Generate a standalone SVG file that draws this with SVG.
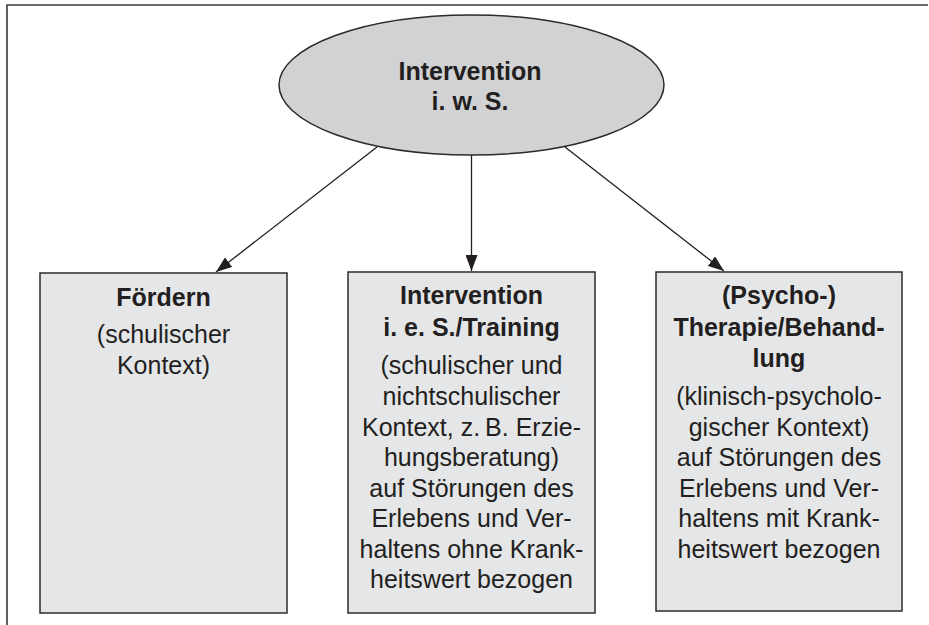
<svg xmlns="http://www.w3.org/2000/svg" width="929" height="625" viewBox="0 0 929 625">
<defs>
<style>
.frame{fill:none;stroke:#3a3a3a;stroke-width:1.6}
.box{fill:#e5e6e8;stroke:#2b2b2b;stroke-width:1.5}
.ell{fill:#d1d2d4;stroke:#2b2b2b;stroke-width:1.5}
.conn{fill:none;stroke:#231f20;stroke-width:1.3;marker-end:url(#arr)}
text{font-family:"Liberation Sans",Arial,sans-serif;font-size:25px;fill:#231f20;text-anchor:middle}
.b{font-weight:bold}
</style>
<marker id="arr" viewBox="0 0 16 12" refX="16" refY="6" markerWidth="16" markerHeight="12" markerUnits="userSpaceOnUse" orient="auto">
<path d="M0,0 L16,6 L0,12 Z" fill="#231f20"/>
</marker>
</defs>
<path class="frame" d="M7,625 L7,5 L928,5"/>
<g id="connectors">
<line class="conn" x1="377" y1="147" x2="216" y2="272"/>
<line class="conn" x1="471.5" y1="155" x2="471.5" y2="271"/>
<line class="conn" x1="565" y1="147" x2="724" y2="271"/>
</g>
<g id="root">
<ellipse class="ell" cx="471.5" cy="85" rx="192.5" ry="70"/>
<text class="b" x="470" y="80">Intervention</text>
<text class="b" x="470" y="110">i. w. S.</text>
</g>
<g id="foerdern">
<rect class="box" x="40" y="273" width="247" height="340"/>
<text class="b" x="163.5" y="306">Fördern</text>
<text x="163.5" y="343">(schulischer</text>
<text x="163.5" y="374">Kontext)</text>
</g>
<g id="intervention-training">
<rect class="box" x="348" y="272" width="247" height="341"/>
<text class="b" x="471.5" y="304">Intervention</text>
<text class="b" x="471.5" y="336">i. e. S./Training</text>
<text x="471.5" y="374">(schulischer und</text>
<text x="471.5" y="405">nichtschulischer</text>
<text x="471.5" y="436">Kontext, z.&#8201;B. Erzie-</text>
<text x="471.5" y="466">hungsberatung)</text>
<text x="471.5" y="497">auf Störungen des</text>
<text x="471.5" y="527">Erlebens und Ver-</text>
<text x="471.5" y="558">haltens ohne Krank-</text>
<text x="471.5" y="588">heitswert bezogen</text>
</g>
<g id="therapie">
<rect class="box" x="656" y="272" width="246" height="339"/>
<text class="b" x="779" y="304">(Psycho-)</text>
<text class="b" x="779" y="336">Therapie/Behand-</text>
<text class="b" x="779" y="367">lung</text>
<text x="779" y="405">(klinisch-psycholo-</text>
<text x="779" y="436">gischer Kontext)</text>
<text x="779" y="466">auf Störungen des</text>
<text x="779" y="497">Erlebens und Ver-</text>
<text x="779" y="527">haltens mit Krank-</text>
<text x="779" y="558">heitswert bezogen</text>
</g>
</svg>
